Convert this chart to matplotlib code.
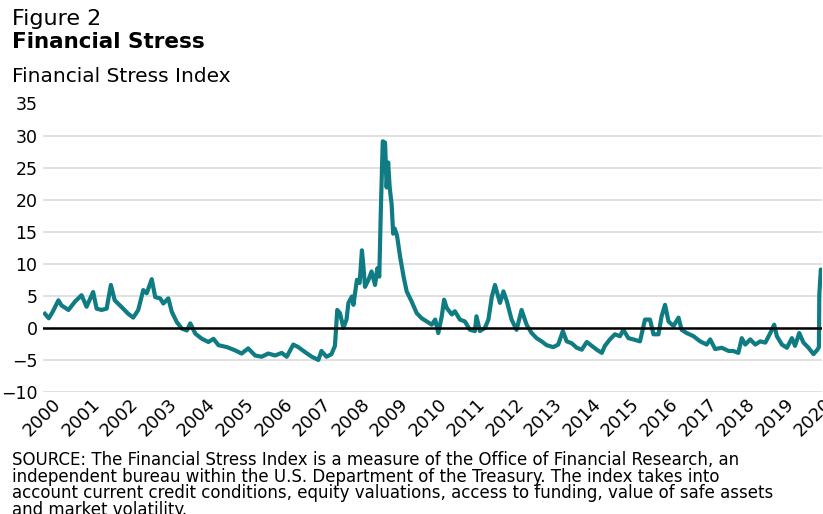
import matplotlib
matplotlib.use('Agg')
import matplotlib.pyplot as plt
import matplotlib.transforms as mtransforms

plt.rcParams['font.family'] = ['DejaVu Sans']

# values (decimal year, index level)
years = [
    2000.05, 2000.15, 2000.25, 2000.40, 2000.48, 2000.66, 2000.83, 2001.00,
    2001.13, 2001.30, 2001.39, 2001.52, 2001.65, 2001.76, 2001.86, 2002.03,
    2002.21, 2002.34, 2002.47, 2002.60, 2002.69, 2002.82, 2002.91, 2003.04,
    2003.12, 2003.25, 2003.34, 2003.47, 2003.60, 2003.73, 2003.82, 2003.95,
    2004.12, 2004.29, 2004.42, 2004.55, 2004.77, 2004.98, 2005.15, 2005.32,
    2005.50, 2005.67, 2005.84, 2006.02, 2006.19, 2006.32, 2006.49, 2006.62,
    2006.80, 2006.97, 2007.14, 2007.22, 2007.35, 2007.48, 2007.57, 2007.63,
    2007.70, 2007.79, 2007.87, 2007.92, 2008.01, 2008.05, 2008.14, 2008.21,
    2008.27, 2008.31, 2008.35, 2008.44, 2008.52, 2008.61, 2008.67, 2008.72,
    2008.76, 2008.81, 2008.87, 2008.91, 2008.95, 2008.99, 2009.04, 2009.08,
    2009.12, 2009.18, 2009.26, 2009.35, 2009.43, 2009.56, 2009.69, 2009.82,
    2009.95, 2010.08, 2010.17, 2010.25, 2010.34, 2010.40, 2010.47, 2010.60,
    2010.68, 2010.81, 2010.94, 2011.07, 2011.20, 2011.24, 2011.33, 2011.46,
    2011.55, 2011.64, 2011.72, 2011.85, 2011.94, 2012.03, 2012.15, 2012.28,
    2012.41, 2012.54, 2012.67, 2012.80, 2012.93, 2013.06, 2013.23, 2013.36,
    2013.48, 2013.58, 2013.71, 2013.84, 2013.97, 2014.10, 2014.23, 2014.36,
    2014.49, 2014.57, 2014.70, 2014.83, 2014.96, 2015.05, 2015.18, 2015.31,
    2015.48, 2015.61, 2015.74, 2015.83, 2015.96, 2016.04, 2016.13, 2016.22,
    2016.35, 2016.48, 2016.56, 2016.69, 2016.87, 2017.04, 2017.21, 2017.30,
    2017.43, 2017.60, 2017.78, 2017.90, 2018.03, 2018.12, 2018.21, 2018.34,
    2018.47, 2018.60, 2018.73, 2018.86, 2018.96, 2019.03, 2019.16, 2019.29,
    2019.42, 2019.50, 2019.61, 2019.72, 2019.85, 2019.98, 2020.08, 2020.12,
    2020.13, 2020.17, 2020.20,
]
fsi = [
    2.2, 1.5, 2.5, 4.3, 3.5, 2.8, 4.1, 5.1,
    3.3, 5.6, 3.0, 2.8, 3.0, 6.7, 4.3, 3.3,
    2.2, 1.6, 2.8, 5.9, 5.4, 7.6, 4.8, 4.6,
    3.8, 4.6, 2.5, 0.9, -0.1, -0.4, 0.7, -0.9,
    -1.7, -2.2, -1.7, -2.7, -3.0, -3.5, -4.0, -3.2,
    -4.3, -4.5, -4.0, -4.3, -3.9, -4.5, -2.6, -3.0,
    -3.8, -4.5, -5.0, -3.6, -4.5, -4.1, -2.8, 2.8,
    2.3, 0.0, 1.3, 3.9, 4.9, 3.6, 7.5, 7.0,
    12.1, 9.5, 6.4, 7.5, 8.8, 6.7, 9.3, 8.0,
    18.3, 29.1, 28.9, 21.9, 25.8, 21.9, 19.3, 14.7,
    15.5, 14.4, 11.1, 8.0, 5.7, 4.1, 2.3, 1.5,
    1.0, 0.5, 1.3, -0.8, 1.8, 4.4, 3.1, 2.1,
    2.6, 1.3, 1.0, -0.3, -0.5, 1.8, -0.5, 0.0,
    1.3, 4.9, 6.7, 3.9, 5.7, 4.1, 1.3, -0.3,
    2.8, 0.5, -0.8, -1.6, -2.1, -2.7, -3.0, -2.6,
    -0.5, -2.1, -2.4, -3.1, -3.4, -2.2, -2.8, -3.4,
    -3.9, -2.8, -1.8, -1.0, -1.3, -0.3, -1.6, -1.8,
    -2.1, 1.3, 1.3, -1.0, -1.0, 1.8, 3.6, 1.0,
    0.3, 1.6, -0.3, -0.8, -1.3, -2.1, -2.6, -1.8,
    -3.3, -3.1, -3.6, -3.6, -3.9, -1.6, -2.6, -1.8,
    -2.6, -2.1, -2.3, -0.8, 0.5, -1.3, -2.6, -3.1,
    -1.6, -2.8, -0.8, -2.3, -3.1, -4.1, -3.4, -3.0,
    5.2, 9.1, 8.5,
]
year_ticks = list(range(2000, 2021))
y_ticks = [-10, -5, 0, 5, 10, 15, 20, 25, 30, 35]

source_lines = [
    "SOURCE: The Financial Stress Index is a measure of the Office of Financial Research, an",
    "independent bureau within the U.S. Department of the Treasury. The index takes into",
    "account current credit conditions, equity valuations, access to funding, value of safe assets",
    "and market volatility.",
]

fig = plt.figure(figsize=(8.23, 5.14), dpi=100)
ax = fig.add_axes([43/823, 1 - 392/514, (822 - 43)/823, (392 - 103.5)/514])

ax.plot(years, fsi, color='#0f7b82', lw=3.0, solid_joinstyle='round', zorder=3)
ax.axhline(0, color='black', lw=1.8, zorder=4)

ax.set_xlim(2000, 2020.2)
ax.set_ylim(-10, 35)
ax.set_yticks(y_ticks)
ax.set_xticks(year_ticks)
ax.set_xticklabels([str(y) for y in year_ticks], rotation=45, ha='right', va='top',
                   rotation_mode='anchor')
ax.grid(axis='y', color='#dedede', lw=1.3, zorder=0)
ax.tick_params(length=0, labelsize=13)
ax.tick_params(axis='y', labelsize=12.5, pad=4)
ax.tick_params(axis='x', pad=2)
for s in ax.spines.values():
    s.set_visible(False)

offset = mtransforms.ScaledTranslation(9/100, 0, fig.dpi_scale_trans)
for lab in ax.get_xticklabels():
    lab.set_transform(lab.get_transform() + offset)

fig.text(12/823, 1 - 9/514, 'Figure 2', fontsize=16, va='top', ha='left')
fig.text(12/823, 1 - 32/514, 'Financial Stress', fontsize=15.5, fontweight='bold',
         va='top', ha='left')
fig.text(12/823, 1 - 67/514, 'Financial Stress Index', fontsize=14.5, va='top', ha='left')
for i, line in enumerate(source_lines):
    fig.text(12/823, 1 - (465 + i*16.6)/514, line, fontsize=12, va='baseline', ha='left')

fig.savefig('out.png', dpi=100)
